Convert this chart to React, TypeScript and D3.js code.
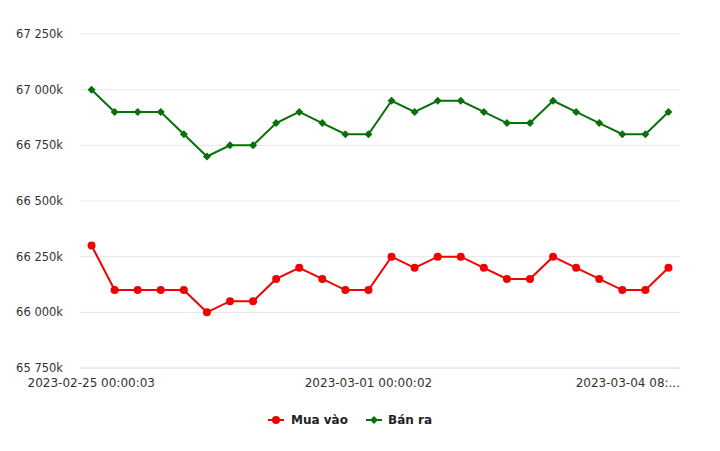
import React from "react";
import * as d3 from "d3";

const categories: string[] = Array.from({ length: 26 }, (_, i) => String(i));
const tickLabels: { index: number; label: string }[] = [
  { index: 0, label: "2023-02-25 00:00:03" },
  { index: 12, label: "2023-03-01 00:00:02" },
  { index: 23, label: "2023-03-04 08:..." },
];
const muaVao: number[] = [
  66300, 66100, 66100, 66100, 66100, 66000, 66050, 66050, 66150, 66200, 66150, 66100, 66100,
  66250, 66200, 66250, 66250, 66200, 66150, 66150, 66250, 66200, 66150, 66100, 66100, 66200,
];
const banRa: number[] = [
  67000, 66900, 66900, 66900, 66800, 66700, 66750, 66750, 66850, 66900, 66850, 66800, 66800,
  66950, 66900, 66950, 66950, 66900, 66850, 66850, 66950, 66900, 66850, 66800, 66800, 66900,
];
const yTicks: number[] = [65750, 66000, 66250, 66500, 66750, 67000, 67250];

const W = 720;
const H = 451;
const left = 80;
const right = 680;
const top = 34;
const bottom = 368;
const RED = "#f20000";
const GREEN = "#087008";
const FONT = "'DejaVu Sans', Verdana, sans-serif";

const fmt = (v: number) => {
  const s = String(v);
  return s.slice(0, s.length - 3) + " " + s.slice(s.length - 3) + "k";
};

export default function App() {
  const x = d3.scalePoint<string>().domain(categories).range([left, right]).padding(0.5);
  const y = d3.scaleLinear().domain([65750, 67250]).range([bottom, top]);
  const line = d3
    .line<number>()
    .x((_, i) => x(categories[i]) as number)
    .y((d) => y(d));

  return (
    <svg width={W} height={H} style={{ position: "absolute", left: 0, top: 0 }}>
      <rect width={W} height={H} fill="#fff" />
      {yTicks.map((t) => (
        <g key={t}>
          <line
            x1={left}
            x2={right}
            y1={y(t)}
            y2={y(t)}
            stroke={t === 65750 ? "#ccd6eb" : "#e6e6e6"}
            strokeWidth={1}
          />
          <text
            x={63}
            y={y(t) + 4}
            textAnchor="end"
            fontFamily={FONT}
            fontSize={11.5}
            fill="#333"
          >
            {fmt(t)}
          </text>
        </g>
      ))}
      {tickLabels.map((t, j) => {
        const cx = x(categories[t.index]) as number;
        return (
          <text
            key={t.index}
            x={j === 0 ? cx - 64 : j === tickLabels.length - 1 ? right : cx}
            y={bottom + 19}
            textAnchor={j === 0 ? "start" : j === tickLabels.length - 1 ? "end" : "middle"}
            fontFamily={FONT}
            fontSize={12}
            fill="#333"
          >
            {t.label}
          </text>
        );
      })}
      <path d={line(banRa) || ""} fill="none" stroke={GREEN} strokeWidth={2} />
      {banRa.map((v, i) => {
        const cx = x(categories[i]) as number;
        const cy = y(v);
        const r = 4;
        return (
          <path
            key={"g" + i}
            d={`M${cx},${cy - r}L${cx + r},${cy}L${cx},${cy + r}L${cx - r},${cy}Z`}
            fill={GREEN}
          />
        );
      })}
      <path d={line(muaVao) || ""} fill="none" stroke={RED} strokeWidth={2} />
      {muaVao.map((v, i) => (
        <circle key={"r" + i} cx={x(categories[i]) as number} cy={y(v)} r={4} fill={RED} />
      ))}
      <g fontFamily={FONT} fontSize={12} fontWeight="bold" fill="#222">
        <line x1={268} x2={284} y1={420} y2={420} stroke={RED} strokeWidth={2} />
        <circle cx={276} cy={420} r={4} fill={RED} />
        <text x={291} y={424}>Mua vào</text>
        <line x1={366} x2={382} y1={420} y2={420} stroke={GREEN} strokeWidth={2} />
        <path d="M374,416L378,420L374,424L370,420Z" fill={GREEN} />
        <text x={388} y={424}>Bán ra</text>
      </g>
    </svg>
  );
}
